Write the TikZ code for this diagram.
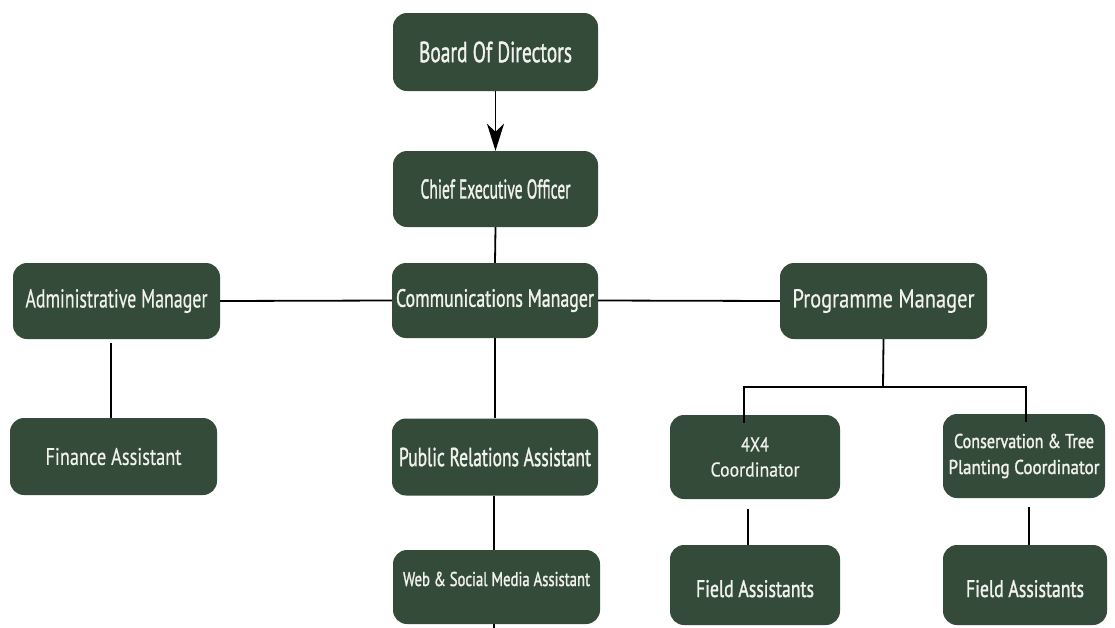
\documentclass[tikz,border=0pt]{standalone}
\usepackage{fontspec}
\setmainfont{PT Sans}[FakeBold=0.5]
% a slightly heavier face for the labels that get squeezed narrow
\newfontfamily\sqfont{PT Sans}[FakeBold=1.5]
\usetikzlibrary{arrows.meta}
\definecolor{boxgreen}{HTML}{344B3A}
\definecolor{boxtext}{HTML}{F2F2EC}
% squeeze or stretch a label horizontally to a given width, keeping its height
\newlength{\fwlen}
\newcommand{\fw}[2]{\settowidth{\fwlen}{#2}%
  \edef\fwfac{\fpeval{#1pt/(\the\fwlen)}}%
  \scalebox{\fwfac}[1]{#2}}
\begin{document}
\begin{tikzpicture}[x=1pt,y=-1pt,
  orgbox/.style={fill=boxgreen, rounded corners=14pt, text=boxtext, inner sep=0pt, align=center},
  link/.style={line width=1.8pt, black}]
\useasboundingbox (0,0) rectangle (1115,627);

% top of the organisation
\node[orgbox, minimum width=205pt, minimum height=78pt, font=\sqfont\fontsize{29}{32}\selectfont]
  (board) at (495.5,52) {\fw{153}{Board Of Directors}};
\node[orgbox, minimum width=205pt, minimum height=76pt, font=\sqfont\fontsize{27}{30}\selectfont]
  (ceo) at (495.5,189) {\fw{150}{Chief Executive Officer}};

% managers
\node[orgbox, minimum width=207pt, minimum height=76pt, font=\fontsize{26}{30}\selectfont]
  (admin) at (116.5,301) {\fw{182}{Administrative Manager}};
\node[orgbox, minimum width=206pt, minimum height=75pt, font=\sqfont\fontsize{25}{28}\selectfont]
  (comm) at (495,300.5) {\fw{198}{Communications Manager}};
\node[orgbox, minimum width=207pt, minimum height=76pt, font=\fontsize{26}{30}\selectfont]
  (prog) at (883.5,301) {\fw{182}{Programme Manager}};

% assistants and coordinators
\node[orgbox, minimum width=207pt, minimum height=77pt, font=\fontsize{24}{28}\selectfont]
  (fin) at (113.5,456.5) {\fw{136}{Finance Assistant}};
\node[orgbox, minimum width=206pt, minimum height=77pt, font=\sqfont\fontsize{26}{30}\selectfont]
  (pr) at (495,457) {\fw{192}{Public Relations Assistant}};
\node[orgbox, minimum width=170pt, minimum height=84pt, font=\fontsize{20}{25}\selectfont]
  (c4) at (755,457) {\fw{28}{4X4}\\\fw{89}{Coordinator}};
\node[orgbox, minimum width=162pt, minimum height=84pt, font=\sqfont\fontsize{20}{26}\selectfont]
  (cons) at (1024,456) {\fw{140}{Conservation \& Tree}\\\fw{151}{Planting Coordinator}};

% bottom row
\node[orgbox, minimum width=207pt, text height=36pt, text depth=38pt, font=\sqfont\fontsize{20}{24}\selectfont]
  (web) at (496.5,587) {\fw{187}{Web \& Social Media Assistant}};
\node[orgbox, minimum width=170pt, text height=52pt, text depth=28pt, font=\sqfont\fontsize{24}{28}\selectfont]
  (fa1) at (755,585) {\fw{118}{Field Assistants}};
\node[orgbox, minimum width=164pt, text height=52pt, text depth=28pt, font=\sqfont\fontsize{24}{28}\selectfont]
  (fa2) at (1025,585) {\fw{118}{Field Assistants}};

% connectors
\draw[link, -{Stealth[length=27pt, width=17pt, inset=8pt]}] (board.south) -- (ceo.north);
\draw[link] (ceo.south) -- (comm.north);
\draw[link] (admin.east) -- (comm.west);
\draw[link] (comm.east) -- (prog.west);
\draw[link] ([xshift=-5.5pt,yshift=-4pt]admin.south) -- ([xshift=-5.5pt]admin.south |- fin.north);
\draw[link] (comm.south) -- (pr.north);
\draw[link] ([xshift=-1pt]pr.south) -- ([xshift=-1pt]pr.south |- web.north);
\coordinate (webout) at (494,640);
\draw[link] ([xshift=-2.5pt]web.south) -- (webout);

\coordinate (bar) at (883,387);
\draw[link] (prog.south) -- (bar);
\draw[link] ([xshift=-11pt,yshift=-8pt]c4.north) |- (bar) -| ([xshift=2pt,yshift=-8pt]cons.north);
\draw[link] ([xshift=-7pt,yshift=-10pt]c4.south) -- ([xshift=-7pt]c4.south |- fa1.north);
\draw[link] ([xshift=5pt,yshift=-9pt]cons.south) -- ([xshift=5pt]cons.south |- fa2.north);
\end{tikzpicture}
\end{document}
